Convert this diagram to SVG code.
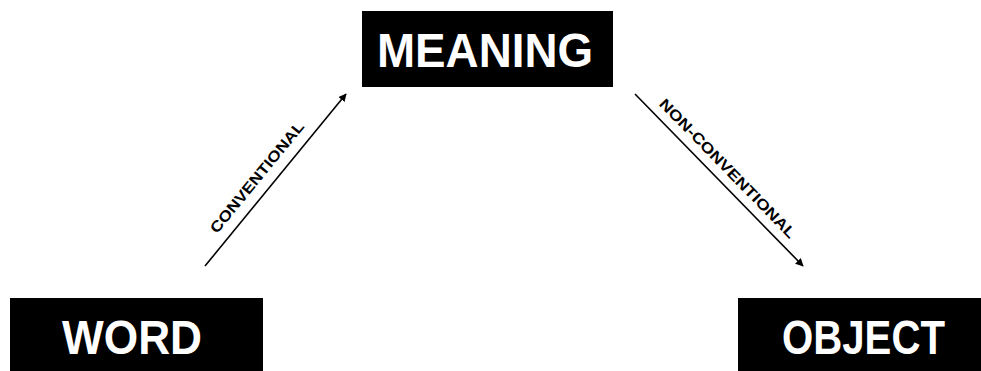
<svg xmlns="http://www.w3.org/2000/svg" width="981" height="371" viewBox="0 0 981 371">
<style>
.box{fill:#000}
.lbl{fill:#fff;font-family:"Liberation Sans",Arial,sans-serif;font-weight:bold;font-size:48px;text-anchor:middle}
.edge{stroke:#000;stroke-width:1.6;fill:none}
.elbl{fill:#000;font-family:"Liberation Sans",Arial,sans-serif;font-weight:bold;font-size:15px;text-anchor:middle}
</style>
<defs>
<marker id="ah" viewBox="0 0 10 10" refX="9" refY="5" markerWidth="5" markerHeight="5" orient="auto" markerUnits="strokeWidth">
<path d="M0,0 L10,5 L0,10 z" fill="#000"/>
</marker>
</defs>
<rect width="981" height="371" fill="#fff"/>
<g id="meaning">
<rect class="box" x="362" y="11" width="251" height="76"/>
<text class="lbl" x="485" y="67" textLength="216" lengthAdjust="spacingAndGlyphs">MEANING</text>
</g>
<g id="word">
<rect class="box" x="10" y="298" width="253" height="80"/>
<text class="lbl" x="132" y="354" textLength="140" lengthAdjust="spacingAndGlyphs">WORD</text>
</g>
<g id="object">
<rect class="box" x="738" y="298" width="250" height="80"/>
<text class="lbl" x="863.5" y="354" textLength="163" lengthAdjust="spacingAndGlyphs">OBJECT</text>
</g>
<g id="connectors">
<line class="edge" x1="205" y1="266" x2="346" y2="94" marker-end="url(#ah)"/>
<text class="elbl" transform="translate(261,180.5) rotate(-50.7)" textLength="139" lengthAdjust="spacingAndGlyphs">CONVENTIONAL</text>
<line class="edge" x1="635" y1="94" x2="803" y2="266" marker-end="url(#ah)"/>
<text class="elbl" transform="translate(724,172) rotate(45.7)" textLength="188" lengthAdjust="spacingAndGlyphs">NON-CONVENTIONAL</text>
</g>
</svg>
